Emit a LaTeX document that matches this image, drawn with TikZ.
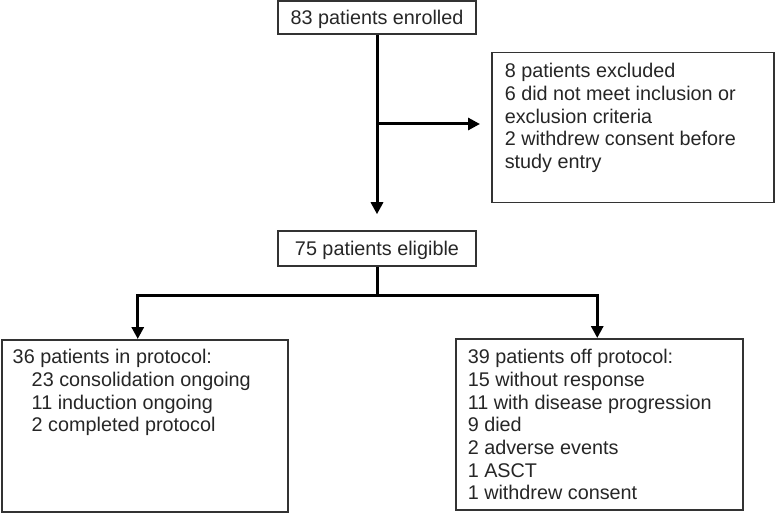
\documentclass[tikz,border=0pt]{standalone}
\usepackage{fontspec}
\setmainfont{Liberation Sans}
\usetikzlibrary{arrows.meta}
\tikzset{
% Boxes and connectors of the patient flow chart
flow box/.style={draw=black!80,line width=1.5pt,inner sep=0pt,text=black!85},
flow line/.style={draw=black,line width=3pt},
flow arrow/.style={flow line,-{Triangle[length=12pt,width=12pt]}}
}
% top aligned text in a box: width, height, left pad, first baseline, lines
\newcommand{\boxlines}[5]{\parbox[c][#2][t]{#1}{\raggedright\leftskip=#3\rule{0pt}{#4}#5}}

\begin{document}
\begin{tikzpicture}[x=1pt,y=1pt,font=\fontsize{19.8pt}{22.7pt}\selectfont]
\useasboundingbox (0,0) rectangle (781,512);
\node[flow box, minimum width=198pt, minimum height=33pt, text depth=0pt] (enrolled) at (377,494.5) {83 patients enrolled};
\node[flow box, anchor=north west] (excluded) at (491,460)
    {\boxlines{282pt}{150pt}{13pt}{25pt}{8 patients excluded\\
    6 did not meet inclusion or\\
    exclusion criteria\\
    2 withdrew consent before\\
    study entry}};
\node[flow box, minimum width=198pt, minimum height=35pt, text depth=0pt] (eligible) at (377,263.5) {75 patients eligible};
\node[flow box, anchor=north west] (inprot) at (1,173)
    {\boxlines{286pt}{172pt}{11pt}{24pt}{36 patients in protocol:\\
    \hspace*{19pt}23 consolidation ongoing\\
    \hspace*{19pt}11 induction ongoing\\
    \hspace*{19pt}2 completed protocol}};
\node[flow box, anchor=north west] (offprot) at (455,174)
    {\boxlines{287pt}{171pt}{12pt}{25pt}{39 patients off protocol:\\
    15 without response\\
    11 with disease progression\\
    9 died\\
    2 adverse events\\
    1 ASCT\\
    1 withdrew consent}};
\coordinate (split) at (377,388);
\coordinate (fork) at (377,217);
\draw[flow arrow, shorten >=16pt] (enrolled) -- (eligible);
\draw[flow arrow, shorten >=11pt] (split) -- (split -| excluded.west);
\draw[flow line] (eligible) -- (fork);
\draw[flow arrow] (fork) -| ([xshift=-7pt]inprot.north);
\draw[flow arrow] (fork) -| ([xshift=-2pt]offprot.north);
\end{tikzpicture}
\end{document}
